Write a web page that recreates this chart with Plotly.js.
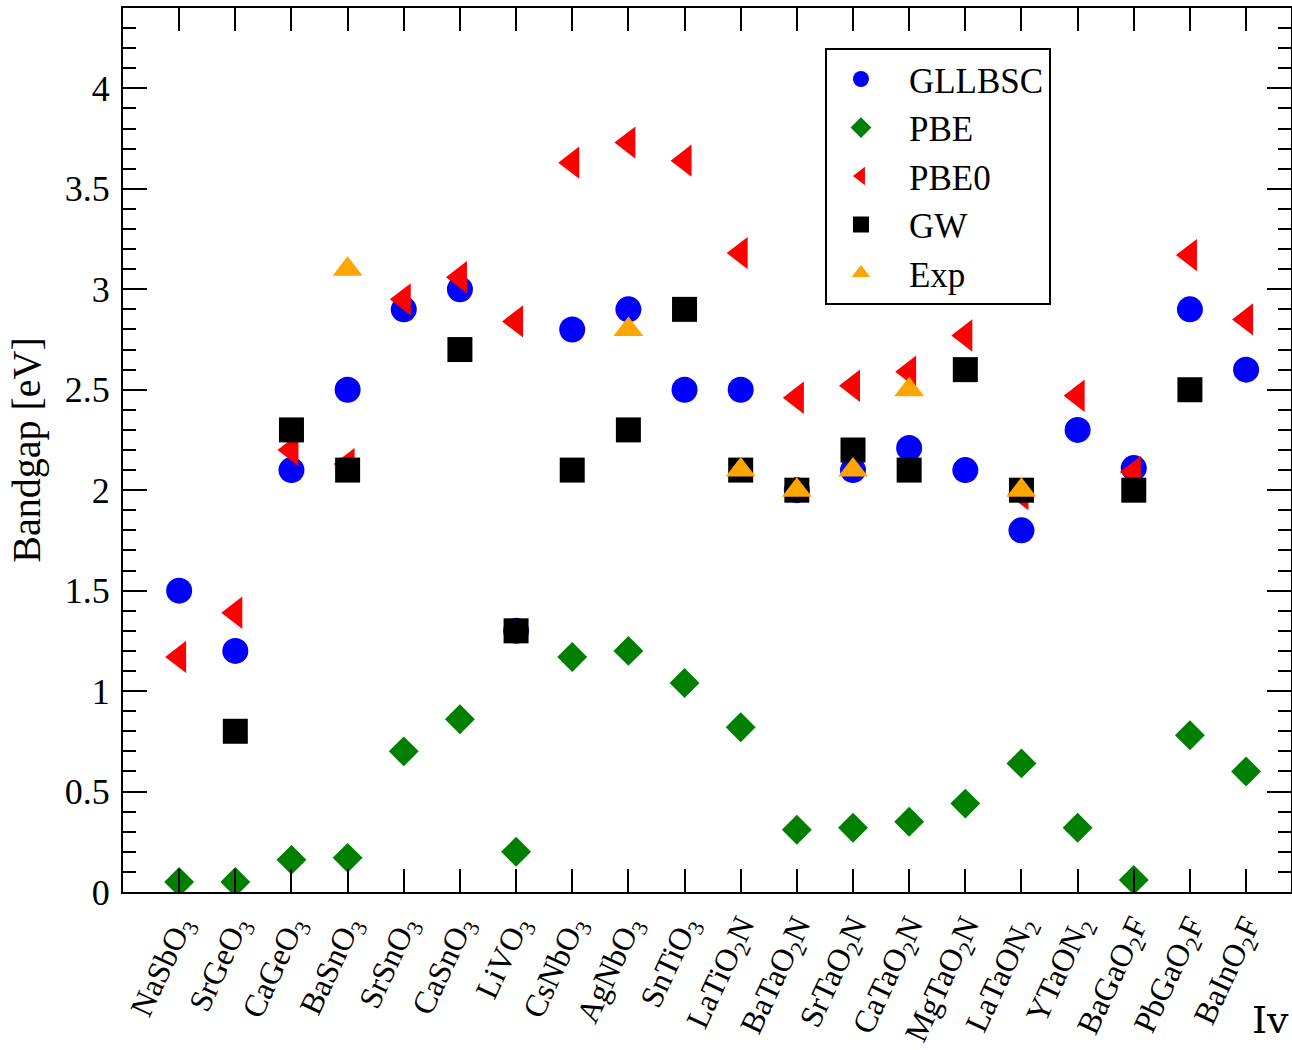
<!DOCTYPE html>
<html>
<head>
<meta charset="utf-8">
<script src="https://cdn.plot.ly/plotly-3.0.1.min.js"></script>
<style>
  html, body { margin: 0; padding: 0; background: #fff; }
  #chart { width: 1292px; height: 1050px; }
</style>
</head>
<body>
<div id="chart"></div>
<script>
const materials = [
  "NaSbO<sub>3</sub>", "SrGeO<sub>3</sub>", "CaGeO<sub>3</sub>", "BaSnO<sub>3</sub>",
  "SrSnO<sub>3</sub>", "CaSnO<sub>3</sub>", "LiVO<sub>3</sub>", "CsNbO<sub>3</sub>",
  "AgNbO<sub>3</sub>", "SnTiO<sub>3</sub>", "LaTiO<sub>2</sub>N", "BaTaO<sub>2</sub>N",
  "SrTaO<sub>2</sub>N", "CaTaO<sub>2</sub>N", "MgTaO<sub>2</sub>N", "LaTaON<sub>2</sub>",
  "YTaON<sub>2</sub>", "BaGaO<sub>2</sub>F", "PbGaO<sub>2</sub>F", "BaInO<sub>2</sub>F"
];

const gllbsc = [1.50, 1.20, 2.10, 2.50, 2.90, 3.00, 1.30, 2.80, 2.90, 2.50,
                2.50, 2.00, 2.10, 2.21, 2.10, 1.80, 2.30, 2.11, 2.90, 2.60];
const pbe    = [0.05, 0.05, 0.16, 0.17, 0.70, 0.86, 0.20, 1.17, 1.20, 1.04,
                0.82, 0.31, 0.32, 0.35, 0.44, 0.64, 0.32, 0.06, 0.78, 0.60];
const pbe0   = [1.17, 1.39, 2.20, 2.13, 2.95, 3.06, 2.84, 3.63, 3.73, 3.64,
                3.18, 2.46, 2.52, 2.59, 2.77, 1.98, 2.47, 2.09, 3.17, 2.85];
const gw     = [null, 0.80, 2.30, 2.10, null, 2.70, 1.30, 2.10, 2.30, 2.90,
                2.10, 2.00, 2.20, 2.10, 2.60, 2.00, null, 2.00, 2.50, null];
const exp    = [null, null, null, 3.10, null, null, null, null, 2.80, null,
                2.10, 2.00, 2.10, 2.50, null, 2.00, null, null, null, null];

const serif = "Liberation Serif, Times New Roman, serif";

function series(name, values, symbol, color, size) {
  return {
    type: "scatter",
    mode: "markers",
    name: name,
    x: materials,
    y: values,
    marker: { symbol: symbol, color: color, size: size, line: { width: 0 } },
    hoverinfo: "x+y+name"
  };
}

const traces = [
  series("GLLBSC", gllbsc, "circle", "#0000ff", 26),
  series("PBE", pbe, "diamond", "#008000", 23),
  series("PBE0", pbe0, "triangle-left", "#ff0000", 28),
  series("GW", gw, "square", "#000000", 25),
  series("Exp", exp, "triangle-up", "#ffa500", 26)
];

const layout = {
  width: 1292,
  height: 1050,
  margin: { l: 123, r: 1, t: 8, b: 158, pad: 0 },
  paper_bgcolor: "#ffffff",
  plot_bgcolor: "#ffffff",
  showlegend: true,
  font: { family: serif, color: "#000000", size: 34 },
  xaxis: {
    type: "category",
    range: [-1, 19.8],
    showgrid: false,
    zeroline: false,
    showline: true,
    linecolor: "#000000",
    linewidth: 2,
    mirror: "ticks",
    ticks: "inside",
    ticklen: 23,
    tickwidth: 2,
    tickcolor: "#000000",
    tickangle: -65,
    tickfont: { family: serif, size: 32, color: "#000000" },
    automargin: false
  },
  yaxis: {
    range: [0, 4.4],
    tick0: 0,
    dtick: 0.5,
    showgrid: false,
    zeroline: false,
    showline: true,
    linecolor: "#000000",
    linewidth: 2,
    mirror: "ticks",
    ticks: "inside",
    ticklen: 24,
    tickwidth: 2,
    tickcolor: "#000000",
    ticklabelstandoff: 4,
    tickfont: { family: serif, size: 36, color: "#000000" },
    minor: { dtick: 0.1, ticks: "inside", ticklen: 13, tickwidth: 2, tickcolor: "#000000", showgrid: false },
    title: { text: "Bandgap [eV]", font: { family: serif, size: 40, color: "#000000" }, standoff: 12 },
    automargin: false
  },
  legend: {
    x: 0.601,
    y: 0.955,
    xanchor: "left",
    yanchor: "top",
    bgcolor: "#ffffff",
    bordercolor: "#000000",
    borderwidth: 2,
    font: { family: serif, size: 35, color: "#000000" },
    itemsizing: "trace",
    itemwidth: 86,
    indentation: -14,
    tracegroupgap: 0
  },
  annotations: [
    {
      text: "Iv",
      xref: "paper", yref: "paper",
      x: 1.0, y: -0.145,
      xanchor: "right", yanchor: "middle",
      showarrow: false,
      font: { family: "DejaVu Serif", size: 38, color: "#000000" }
    }
  ]
};

Plotly.newPlot("chart", traces, layout, { displayModeBar: false, staticPlot: true });
</script>
</body>
</html>
